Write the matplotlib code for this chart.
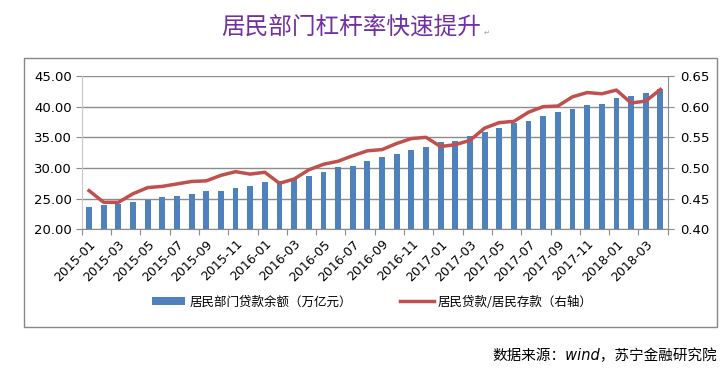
import numpy as np
import matplotlib
matplotlib.use('Agg')
import matplotlib.pyplot as plt
from matplotlib.patches import Rectangle, Patch
from matplotlib.lines import Line2D

plt.rcParams['font.family'] = ['DejaVu Sans', 'Noto Sans CJK SC']

# ------------------------------------------------------------------
# data
# ------------------------------------------------------------------
months = [f'{y}-{m:02d}' for y in (2015, 2016, 2017, 2018) for m in range(1, 13)][:40]

loans = [23.6, 23.9, 24.1, 24.4, 24.7, 25.2, 25.5, 25.8, 26.2, 26.3,
         26.8, 27.1, 27.7, 27.9, 28.2, 28.7, 29.4, 30.1, 30.4, 31.2,
         31.8, 32.3, 33.0, 33.5, 34.2, 34.4, 35.2, 35.8, 36.5, 37.3,
         37.7, 38.4, 39.2, 39.6, 40.2, 40.5, 41.4, 41.8, 42.3, 42.8]

ratio = [0.463, 0.444, 0.444, 0.458, 0.468, 0.470, 0.474, 0.478, 0.479, 0.488,
         0.494, 0.490, 0.493, 0.475, 0.482, 0.497, 0.506, 0.511, 0.520, 0.528,
         0.530, 0.540, 0.548, 0.550, 0.535, 0.538, 0.545, 0.565, 0.574, 0.576,
         0.591, 0.600, 0.601, 0.616, 0.623, 0.621, 0.627, 0.606, 0.609, 0.628]

TITLE = '居民部门杠杆率快速提升'
BAR_LABEL = '居民部门贷款余额（万亿元）'
LINE_LABEL = '居民贷款/居民存款（右轴）'
SOURCE = '数据来源：wind，苏宁金融研究院'

BLUE = '#4F81BD'
RED = '#C0504D'
GRID = '#8C8C8C'

# ------------------------------------------------------------------
# figure
# ------------------------------------------------------------------
fig = plt.figure(figsize=(7.22, 3.72), dpi=100)

# outer chart frame
fig.patches.append(Rectangle((0.033, 0.121), 0.960, 0.723, transform=fig.transFigure,
                             fill=False, edgecolor='#888888', lw=1.0))

fig.text(0.487, 0.925, TITLE, color='#7030A0', fontsize=17, ha='center', va='center',
         family=['Noto Sans CJK SC', 'DejaVu Sans'])
fig.text(0.670, 0.912, '↵', color='#999999', fontsize=5, ha='left', va='center')

ax = fig.add_axes([0.1132, 0.3836, 0.8116, 0.4121])
x = np.arange(len(months))

ax.bar(x, loans, width=0.4, color=BLUE, edgecolor='none', zorder=2)
ax.set_ylim(20, 45)
ax.set_yticks(np.arange(20, 45.1, 5))
ax.set_yticklabels([f'{v:.2f}' for v in np.arange(20, 45.1, 5)], fontsize=9.5)
ax.set_xlim(-0.5, len(months) - 0.5)
ax.grid(axis='y', color=GRID, lw=1.0, zorder=0)

# category ticks every two months, labels centred on the bars
ax.set_xticks(np.arange(-0.5, len(months), 2))
ax.set_xticklabels([])
ax.set_xticks(x[::2], minor=True)
ax.set_xticklabels(months[::2], minor=True, rotation=45, ha='right', va='top',
                   rotation_mode='anchor', fontsize=9)
ax.tick_params(axis='x', which='major', length=4, color=GRID, direction='out')
ax.tick_params(axis='x', which='minor', length=0, pad=6)
ax.tick_params(axis='y', length=4, color=GRID, pad=3)

for s in ('top', 'right'):
    ax.spines[s].set_visible(False)
ax.spines['left'].set_color('#C8C8C8')
ax.spines['bottom'].set_color(GRID)

ax2 = ax.twinx()
ax2.plot(x, ratio, color=RED, lw=2.5, zorder=3, solid_joinstyle='round')
ax2.set_ylim(0.40, 0.65)
ax2.set_yticks(np.arange(0.40, 0.651, 0.05))
ax2.set_yticklabels([f'{v:.2f}' for v in np.arange(0.40, 0.651, 0.05)], fontsize=9.5)
ax2.tick_params(axis='y', length=4, color=GRID, pad=5)
for s in ('top', 'left', 'bottom'):
    ax2.spines[s].set_visible(False)
ax2.spines['right'].set_color(GRID)

handles = [Patch(facecolor=BLUE, edgecolor='none'),
           Line2D([], [], color=RED, lw=2.5)]
fig.legend(handles, [BAR_LABEL, LINE_LABEL], ncol=2, loc='center left',
           bbox_to_anchor=(0.21, 0.188), frameon=False,
           handlelength=2.7, handleheight=0.6, handletextpad=0.3,
           columnspacing=3.9, borderpad=0, borderaxespad=0,
           prop={'family': ['Noto Sans CJK SC', 'DejaVu Sans'], 'size': 9})

fig.text(0.994, 0.045, SOURCE, ha='right', va='center', fontsize=10.5, style='italic')

fig.savefig('out.png', dpi=100)
